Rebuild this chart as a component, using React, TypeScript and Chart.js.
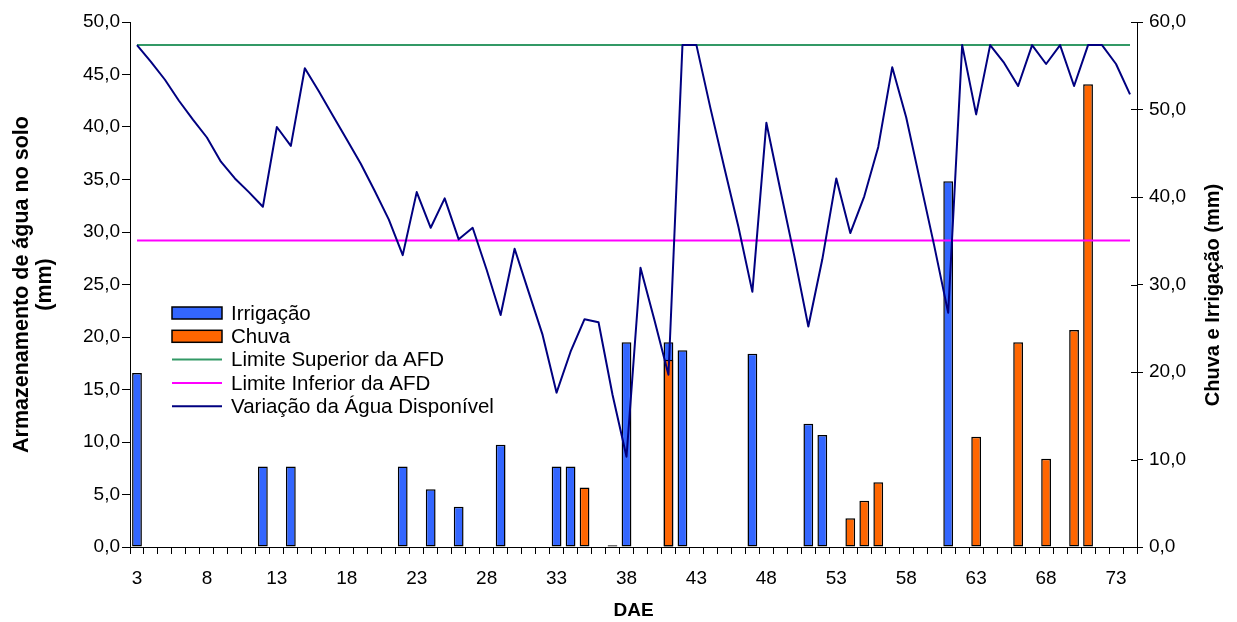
import React, { useEffect, useRef } from 'react';
import { Chart, registerables } from 'chart.js';

Chart.register(...registerables);

// DAE (days after emergence)
const days = [
  3, 4, 5, 6, 7, 8, 9, 10, 11, 12, 13, 14, 15, 16, 17, 18, 19, 20, 21, 22, 23, 24, 25, 26,
  27, 28, 29, 30, 31, 32, 33, 34, 35, 36, 37, 38, 39, 40, 41, 42, 43, 44, 45, 46, 47, 48, 49, 50,
  51, 52, 53, 54, 55, 56, 57, 58, 59, 60, 61, 62, 63, 64, 65, 66, 67, 68, 69, 70, 71, 72, 73, 74,
];

// Variação da Água Disponível (left axis, mm)
const waterAvailable = [
  47.8, 46.2, 44.5, 42.5, 40.7, 39.0, 36.7, 35.1, 33.8, 32.4, 40.0, 38.2, 45.6, 43.4, 41.1, 38.8,
  36.5, 33.9, 31.2, 27.8, 33.8, 30.4, 33.2, 29.3, 30.4, 26.4, 22.1, 28.4, 24.3, 20.2, 14.7, 18.6,
  21.7, 21.4, 14.5, 8.6, 26.6, 21.6, 16.4, 47.8, 47.8, 41.8, 36.1, 30.5, 24.3, 40.4, 34.0, 27.7,
  21.0, 27.4, 35.1, 29.9, 33.4, 38.1, 45.7, 40.9, 34.8, 28.7, 22.3, 47.8, 41.2, 47.8, 46.1, 43.9,
  47.8, 46.0, 47.8, 43.9, 47.8, 47.8, 46.0, 43.1,
];

// Irrigação (right axis, mm)
const irrigationDays = [3, 12, 14, 22, 24, 26, 29, 33, 34, 37, 38, 41, 42, 47, 51, 52, 61];
const irrigationValues = [19.9, 9.2, 9.2, 9.2, 6.6, 4.6, 11.7, 9.2, 9.2, 0.2, 23.4, 23.4, 22.5, 22.1, 14.1, 12.8, 41.8];

// Chuva (right axis, mm)
const rainDays = [35, 41, 54, 55, 56, 63, 66, 68, 70, 71];
const rainValues = [6.8, 21.4, 3.3, 5.3, 7.4, 12.6, 23.4, 10.1, 24.8, 52.9];

// Limits of AFD (left axis, mm)
const upperLimit = 47.8;
const lowerLimit = 29.2;

const COLORS = {
  irrigation: '#3366FF',
  rain: '#FF6600',
  upper: '#339966',
  lower: '#FF00FF',
  water: '#000080',
};

const FONT = '"Liberation Sans", Arial, sans-serif';
const fmt = (v: number) => v.toFixed(1).replace('.', ',');

const legendItems = [
  { label: 'Irrigação', type: 'box', color: COLORS.irrigation },
  { label: 'Chuva', type: 'box', color: COLORS.rain },
  { label: 'Limite Superior da AFD', type: 'line', color: COLORS.upper },
  { label: 'Limite Inferior da AFD', type: 'line', color: COLORS.lower },
  { label: 'Variação da Água Disponível', type: 'line', color: COLORS.water },
];

const overlayPlugin = {
  id: 'overlay',
  afterDraw(chart: any) {
    const { ctx, chartArea, scales } = chart;
    ctx.save();
    // inner half of right-axis tick marks (they cross the axis)
    const y1 = scales.y1;
    ctx.strokeStyle = '#000';
    ctx.lineWidth = 1;
    for (let v = 0; v <= 60; v += 10) {
      const py = Math.round(y1.getPixelForValue(v)) + 0.5;
      ctx.beginPath();
      ctx.moveTo(chartArea.right - 6, py);
      ctx.lineTo(chartArea.right, py);
      ctx.stroke();
    }

    // legend
    const x0 = 172;
    const y0 = 313;
    const step = 23.3;
    ctx.font = `20.5px ${FONT}`;
    ctx.textBaseline = 'middle';
    ctx.textAlign = 'left';
    legendItems.forEach((it, i) => {
      const cy = y0 + i * step;
      if (it.type === 'box') {
        ctx.fillStyle = it.color;
        ctx.fillRect(x0, cy - 6, 50, 12);
        ctx.strokeStyle = '#000';
        ctx.lineWidth = 1.5;
        ctx.strokeRect(x0, cy - 6, 50, 12);
      } else {
        ctx.strokeStyle = it.color;
        ctx.lineWidth = 2;
        ctx.beginPath();
        ctx.moveTo(x0, cy);
        ctx.lineTo(x0 + 50, cy);
        ctx.stroke();
      }
      ctx.fillStyle = '#000';
      ctx.fillText(it.label, 231, cy + 1);
    });

    // right axis title (reads bottom-to-top)
    ctx.translate(1213, 295);
    ctx.rotate(-Math.PI / 2);
    ctx.font = `bold 20px ${FONT}`;
    ctx.textAlign = 'center';
    ctx.textBaseline = 'middle';
    ctx.fillStyle = '#000';
    ctx.fillText('Chuva e Irrigação (mm)', 0, 0);
    ctx.restore();
  },
};

export default function App() {
  const ref = useRef<HTMLCanvasElement | null>(null);

  useEffect(() => {
    document.body.style.margin = '0';
    const canvas = ref.current;
    if (!canvas) return;

    const irrigationData = days.map((d) => {
      const k = irrigationDays.indexOf(d);
      return k >= 0 ? irrigationValues[k] : null;
    });
    const rainData = days.map((d) => {
      const k = rainDays.indexOf(d);
      return k >= 0 ? rainValues[k] : null;
    });

    const chart = new Chart(canvas, {
      type: 'bar',
      data: {
        labels: days.map(String),
        datasets: [
          {
            type: 'line',
            label: 'Variação da Água Disponível',
            data: waterAvailable,
            yAxisID: 'y',
            borderColor: COLORS.water,
            borderWidth: 2,
            borderJoinStyle: 'round',
            pointRadius: 0,
            tension: 0,
            order: 0,
          },
          {
            type: 'line',
            label: 'Limite Superior da AFD',
            data: days.map(() => upperLimit),
            yAxisID: 'y',
            borderColor: COLORS.upper,
            borderWidth: 2,
            pointRadius: 0,
            order: 1,
          },
          {
            type: 'line',
            label: 'Limite Inferior da AFD',
            data: days.map(() => lowerLimit),
            yAxisID: 'y',
            borderColor: COLORS.lower,
            borderWidth: 2,
            pointRadius: 0,
            order: 1,
          },
          {
            type: 'bar',
            label: 'Chuva',
            data: rainData,
            yAxisID: 'y1',
            backgroundColor: COLORS.rain,
            borderColor: '#000',
            borderWidth: 1.5,
            borderSkipped: false,
            grouped: false,
            barPercentage: 0.7,
            categoryPercentage: 1,
            order: 2,
          },
          {
            type: 'bar',
            label: 'Irrigação',
            data: irrigationData,
            yAxisID: 'y1',
            backgroundColor: COLORS.irrigation,
            borderColor: '#000',
            borderWidth: 1.5,
            borderSkipped: false,
            grouped: false,
            barPercentage: 0.7,
            categoryPercentage: 1,
            order: 3,
          },
        ] as any,
      },
      options: {
        responsive: false,
        animation: false,
        devicePixelRatio: 1,
        layout: { padding: { top: 22, left: 0, right: 0, bottom: 0 } },
        plugins: {
          legend: { display: false },
          tooltip: { enabled: false },
        },
        scales: {
          x: {
            offset: true,
            grid: { drawOnChartArea: false, drawTicks: true, tickLength: 7, color: '#000', offset: true },
            border: { display: true, color: '#000', width: 1 },
            ticks: {
              autoSkip: false,
              maxRotation: 0,
              minRotation: 0,
              padding: 13,
              color: '#000',
              font: { family: FONT, size: 19 },
              callback: (_v: any, i: number) => ((days[i] - 3) % 5 === 0 ? String(days[i]) : ''),
            },
            title: {
              display: true,
              text: 'DAE',
              color: '#000',
              font: { family: FONT, size: 19, weight: 'bold', lineHeight: 1.2 },
              padding: { top: 0, bottom: 0 },
            },
            afterFit: (s: any) => {
              s.height = 75;
            },
          },
          y: {
            position: 'left',
            min: 0,
            max: 50,
            grid: { drawOnChartArea: false, drawTicks: true, tickLength: 8, color: '#000' },
            border: { display: true, color: '#000', width: 1 },
            ticks: {
              stepSize: 5,
              padding: 2,
              color: '#000',
              font: { family: FONT, size: 19 },
              callback: (v: any) => fmt(Number(v)),
            },
            title: {
              display: true,
              text: ['Armazenamento de água no solo', '(mm)'],
              color: '#000',
              font: { family: FONT, size: 21.5, weight: 'bold', lineHeight: 1.07 },
              padding: { top: 10.5, bottom: 0 },
            },
            afterFit: (s: any) => {
              s.width = 130;
            },
          },
          y1: {
            position: 'right',
            min: 0,
            max: 60,
            grid: { drawOnChartArea: false, drawTicks: true, tickLength: 6, color: '#000' },
            border: { display: true, color: '#000', width: 1 },
            ticks: {
              stepSize: 10,
              padding: 6,
              color: '#000',
              font: { family: FONT, size: 19 },
              callback: (v: any) => fmt(Number(v)),
            },
            afterFit: (s: any) => {
              s.width = 100;
            },
          },
        },
      } as any,
      plugins: [overlayPlugin],
    });

    return () => chart.destroy();
  }, []);

  return <canvas ref={ref} width={1237} height={622} style={{ display: 'block' }} />;
}
